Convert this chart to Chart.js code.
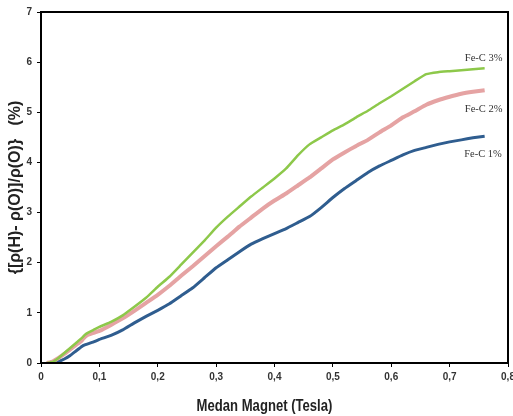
<!DOCTYPE html>
<html>
<head>
<meta charset="utf-8">
<script src="https://cdn.jsdelivr.net/npm/chart.js@4"></script>
<style>
  html, body { margin: 0; padding: 0; background: #fff; }
  #wrap { width: 513px; height: 416px; }
</style>
</head>
<body>
<div id="wrap"><canvas id="mainChart" width="513" height="416"></canvas></div>
<script>
// Medan magnet (Tesla)
const fieldT = [0.01, 0.02, 0.03, 0.04, 0.05, 0.06, 0.07, 0.075, 0.08, 0.09, 0.10, 0.12, 0.14, 0.16, 0.18,
  0.20, 0.22, 0.24, 0.26, 0.28, 0.30, 0.32, 0.34, 0.36, 0.38, 0.40, 0.42, 0.44, 0.46, 0.48,
  0.50, 0.52, 0.54, 0.56, 0.58, 0.60, 0.62, 0.64, 0.66, 0.68, 0.70, 0.72, 0.74, 0.76];

// magnetoresistance (%)
const feC3 = [0, 0.02, 0.10, 0.20, 0.30, 0.40, 0.50, 0.56, 0.60, 0.66, 0.72, 0.82, 0.95, 1.12, 1.30,
  1.52, 1.72, 1.96, 2.20, 2.44, 2.70, 2.92, 3.12, 3.32, 3.50, 3.68, 3.88, 4.14, 4.36, 4.50,
  4.64, 4.76, 4.90, 5.03, 5.18, 5.32, 5.47, 5.62, 5.76, 5.80, 5.82, 5.84, 5.86, 5.88];
const feC2 = [0, 0.03, 0.10, 0.18, 0.27, 0.36, 0.45, 0.52, 0.56, 0.60, 0.64, 0.76, 0.89, 1.04, 1.20,
  1.36, 1.54, 1.74, 1.93, 2.13, 2.33, 2.52, 2.72, 2.90, 3.08, 3.24, 3.38, 3.54, 3.70, 3.88,
  4.06, 4.20, 4.33, 4.45, 4.60, 4.74, 4.90, 5.02, 5.15, 5.24, 5.31, 5.37, 5.41, 5.44];
const feC1 = [0, 0, 0.03, 0.08, 0.15, 0.24, 0.33, 0.36, 0.38, 0.42, 0.47, 0.55, 0.66, 0.80, 0.93,
  1.05, 1.18, 1.34, 1.50, 1.70, 1.90, 2.06, 2.22, 2.37, 2.48, 2.58, 2.68, 2.80, 2.92, 3.10,
  3.30, 3.48, 3.64, 3.80, 3.93, 4.04, 4.15, 4.24, 4.30, 4.36, 4.41, 4.45, 4.49, 4.52];

const seriesLabels = ['Fe-C 3%', 'Fe-C 2%', 'Fe-C 1%'];
// where the curve labels sit, in data units
const labelX = [0.726, 0.726, 0.725];
const labelY = [6.08, 5.06, 4.16];

const xTicks = [0, 0.1, 0.2, 0.3, 0.4, 0.5, 0.6, 0.7, 0.8];
const yTicks = [0, 1, 2, 3, 4, 5, 6, 7];
const xTitle = 'Medan Magnet (Tesla)';
const yTitle = '{[ρ(H)- ρ(O)]/ρ(O)}   (%)';

const COLORS = ['#8dc84a', '#e5a3a3', '#2f5d8f'];
const WIDTHS = [2.5, 4, 3];

const SANS = "'Liberation Sans', Arial, sans-serif";
const tickFont = { family: SANS, size: 10, weight: 'bold' };

function toPoints(ys) {
    return fieldT.map((x, i) => ({ x, y: ys[i] }));
}

const datasets = [feC3, feC2, feC1].map((ys, i) => ({
    label: seriesLabels[i],
    data: toPoints(ys),
    borderColor: COLORS[i],
    backgroundColor: COLORS[i],
    borderWidth: WIDTHS[i],
    pointRadius: 0,
    showLine: true,
    tension: 0.1,
}));

// frame, curve labels and the narrow x title
const framePlugin = {
    id: 'frame',
    afterDraw(chart) {
        const { ctx, chartArea: a, scales } = chart;
        ctx.save();
        ctx.strokeStyle = '#000';
        ctx.lineWidth = 2;
        ctx.strokeRect(a.left, a.top, a.right - a.left, a.bottom - a.top);

        ctx.fillStyle = '#333';
        ctx.font = "10.5px 'Liberation Serif', 'Times New Roman', serif";
        ctx.textBaseline = 'middle';
        seriesLabels.forEach((t, i) => {
            ctx.fillText(t, scales.x.getPixelForValue(labelX[i]), scales.y.getPixelForValue(labelY[i]));
        });

        // condensed bold title under the x axis
        ctx.fillStyle = '#222';
        ctx.font = 'bold 17px ' + SANS;
        ctx.textAlign = 'center';
        ctx.translate((a.left + a.right) / 2 - 10, scales.x.bottom - 10);
        ctx.scale(0.77, 1);
        ctx.fillText(xTitle, 0, 0);
        ctx.restore();
    },
};

new Chart(document.getElementById('mainChart'), {
    type: 'scatter',
    data: { datasets },
    options: {
        responsive: false,
        animation: false,
        layout: { padding: { left: 6, right: 5, top: 12, bottom: 0 } },
        plugins: { legend: { display: false }, tooltip: { enabled: false } },
        scales: {
            x: {
                type: 'linear',
                min: 0,
                max: 0.8,
                afterFit: (s) => { s.height = 53; s.paddingRight = 0; },
                afterBuildTicks: (s) => { s.ticks = xTicks.map(v => ({ value: v })); },
                grid: { drawOnChartArea: false, drawTicks: true, tickLength: 4, color: '#000' },
                border: { color: '#000', width: 2 },
                ticks: {
                    color: '#333',
                    font: tickFont,
                    padding: 4,
                    maxRotation: 0,
                    callback: (v) => v === 0 ? '0' : v.toFixed(1).replace('.', ','),
                },
            },
            y: {
                min: 0,
                max: 7,
                afterFit: (s) => { s.width = 35; },
                afterBuildTicks: (s) => { s.ticks = yTicks.map(v => ({ value: v })); },
                grid: { drawOnChartArea: false, drawTicks: true, tickLength: 4, color: '#000' },
                border: { color: '#000', width: 2 },
                ticks: { color: '#333', font: tickFont, padding: 5 },
                title: {
                    display: true,
                    text: yTitle,
                    color: '#222',
                    font: { family: SANS, size: 16, weight: 'bold' },
                    padding: { top: 0, bottom: 0 },
                },
            },
        },
    },
    plugins: [framePlugin],
});
</script>
</body>
</html>
